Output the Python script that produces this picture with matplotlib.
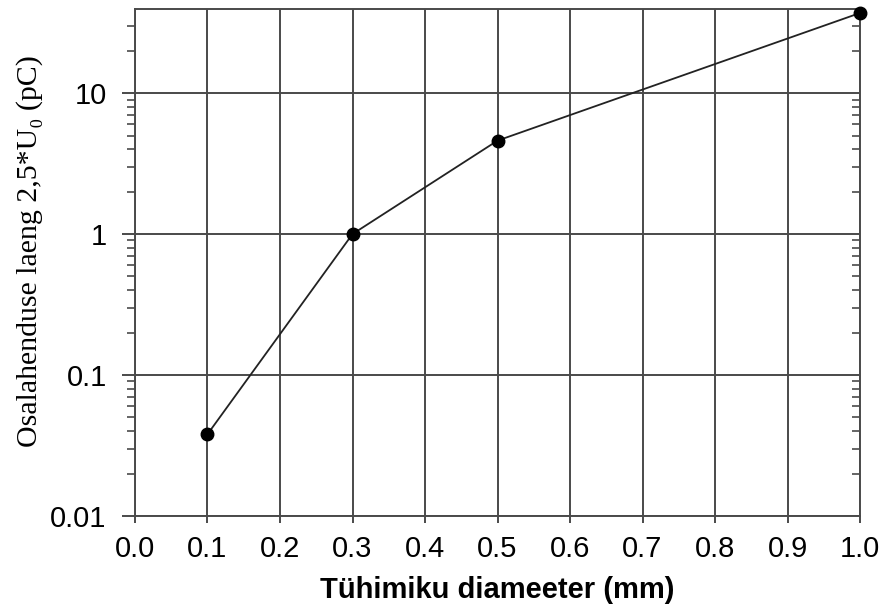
import matplotlib.pyplot as plt
from matplotlib.ticker import LogLocator, NullFormatter, FixedLocator

# data
diameter = [0.1, 0.3, 0.5, 1.0]
charge = [0.038, 1.0, 4.6, 37.0]

x_ticks = [0.0, 0.1, 0.2, 0.3, 0.4, 0.5, 0.6, 0.7, 0.8, 0.9, 1.0]
y_ticks = [0.01, 0.1, 1, 10]
y_tick_labels = ["0.01", "0.1", "1", "10"]

grid_col = "#4a4a4a"
sans = ["Liberation Sans", "DejaVu Sans"]

fig = plt.figure(figsize=(8.84, 6.15), dpi=100)
ax = fig.add_axes([0.1527, 0.161, 0.8202, 0.8244])

ax.plot(diameter, charge, color="#222222", lw=1.3, marker="o", ms=9,
        markerfacecolor="black", markeredgecolor="black", zorder=5, clip_on=False)

ax.set_yscale("log")
ax.set_xlim(0.0, 1.0)
ax.set_ylim(0.01, 39.5)

ax.set_xticks(x_ticks)
ax.set_xticklabels([f"{v:.1f}" for v in x_ticks], family=sans, fontsize=21)
ax.yaxis.set_major_locator(FixedLocator(y_ticks))
ax.set_yticklabels(y_tick_labels, family=sans, fontsize=21)
ax.yaxis.set_minor_locator(LogLocator(base=10, subs=range(2, 10)))
ax.yaxis.set_minor_formatter(NullFormatter())

ax.grid(True, which="major", color=grid_col, lw=1.4)
for s in ax.spines.values():
    s.set_color(grid_col)
    s.set_linewidth(1.4)

ax.tick_params(axis="x", which="major", direction="out", length=5, width=1.4, color=grid_col, pad=9)
ax.tick_params(axis="y", which="major", direction="out", length=9.4, width=1.4, color=grid_col, pad=11)
ax.tick_params(axis="y", which="minor", direction="out", length=5.5, width=1.2, color=grid_col)

# right side minor ticks point inwards
ax2 = ax.twinx()
ax2.set_yscale("log")
ax2.set_ylim(ax.get_ylim())
ax2.yaxis.set_major_locator(FixedLocator([]))
ax2.yaxis.set_minor_locator(LogLocator(base=10, subs=range(2, 10)))
ax2.yaxis.set_minor_formatter(NullFormatter())
ax2.tick_params(axis="y", which="minor", direction="in", length=5.5, width=1.2, color=grid_col)
for s in ax2.spines.values():
    s.set_visible(False)

ax.set_xlabel("Tühimiku diameeter (mm)", family=sans,
              fontsize=21, fontweight="bold", labelpad=9)
ax.set_ylabel("Osalahenduse laeng 2,5*U\u2080 (pC)", family=["Liberation Serif", "DejaVu Serif"],
              fontsize=21.5)
ax.yaxis.set_label_coords(-0.127, 0.522)

fig.savefig("out.png", dpi=100)
